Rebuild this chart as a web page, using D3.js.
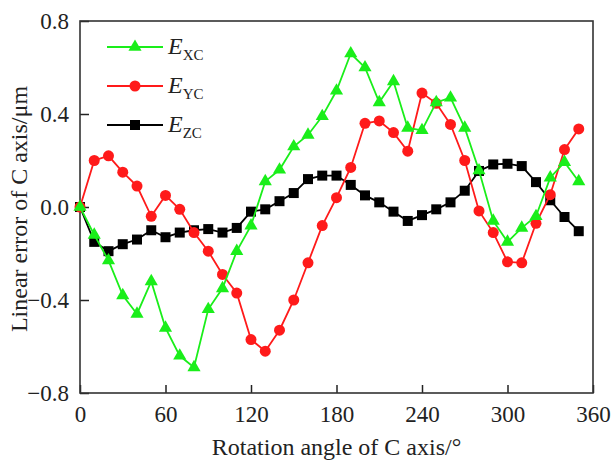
<!DOCTYPE html>
<html>
<head>
<meta charset="utf-8">
<script src="https://cdn.jsdelivr.net/npm/d3@7"></script>
<style>
  body { margin: 0; background: #fff; }
</style>
</head>
<body>
<div id="chart"></div>
<script>
// rotation angle of C axis, degrees
const angles = d3.range(0, 360, 10);

const exc = [0, -0.12, -0.23, -0.38, -0.46, -0.32, -0.52, -0.64, -0.69, -0.44,
  -0.35, -0.19, -0.08, 0.11, 0.16, 0.26, 0.31, 0.39, 0.50, 0.66,
  0.60, 0.45, 0.54, 0.34, 0.33, 0.45, 0.47, 0.34, 0.157, -0.06,
  -0.15, -0.09, -0.04, 0.126, 0.193, 0.11];

const eyc = [0, 0.20, 0.22, 0.15, 0.09, -0.04, 0.05, -0.01, -0.11, -0.19,
  -0.29, -0.37, -0.57, -0.62, -0.53, -0.40, -0.24, -0.08, 0.04, 0.17,
  0.36, 0.37, 0.32, 0.24, 0.49, 0.446, 0.355, 0.20, -0.017, -0.11,
  -0.236, -0.24, -0.07, 0.053, 0.247, 0.336];

const ezc = [0, -0.15, -0.19, -0.16, -0.14, -0.10, -0.13, -0.11, -0.10, -0.095,
  -0.11, -0.09, -0.02, -0.01, 0.025, 0.06, 0.12, 0.135, 0.135, 0.095,
  0.05, 0.02, -0.02, -0.06, -0.035, -0.01, 0.02, 0.07, 0.155, 0.183,
  0.186, 0.176, 0.107, 0.029, -0.043, -0.104];

const xTicks = [0, 60, 120, 180, 240, 300, 360];
const yTicks = [-0.8, -0.4, 0.0, 0.4, 0.8];

const series = [
  { sub: 'ZC', values: ezc, color: '#000000', marker: 'square' },
  { sub: 'YC', values: eyc, color: '#ff1a1a', marker: 'circle' },
  { sub: 'XC', values: exc, color: '#1aee1a', marker: 'triangle' }
];
const legendOrder = ['XC', 'YC', 'ZC'];

const FONT = '"Liberation Serif"';

const width = 612, height = 463;
const margin = { top: 21, right: 19, bottom: 70, left: 80 };
const w = width - margin.left - margin.right;
const h = height - margin.top - margin.bottom;

const svg = d3.select('#chart').append('svg')
  .attr('width', width)
  .attr('height', height);

const g = svg.append('g')
  .attr('transform', `translate(${margin.left},${margin.top})`);

const x = d3.scaleLinear().domain([0, 360]).range([0, w]);
const y = d3.scaleLinear().domain([-0.8, 0.8]).range([h, 0]);

// Axes (ticks pointing inward)
const xAxis = g.append('g')
  .attr('transform', `translate(0,${h})`)
  .call(d3.axisBottom(x).tickValues(xTicks).tickSizeInner(-8).tickSizeOuter(0).tickPadding(13));
const yAxis = g.append('g')
  .call(d3.axisLeft(y).tickValues(yTicks).tickFormat(d3.format('.1f')).tickSizeInner(-9).tickSizeOuter(0).tickPadding(11));

[xAxis, yAxis].forEach(a => {
  a.attr('font-family', null).attr('font-size', null);
  a.select('.domain').remove();
  a.selectAll('line').attr('stroke', '#222').attr('stroke-width', 1.5);
  a.selectAll('text')
    .attr('fill', '#222')
    .attr('font-family', FONT)
    .attr('font-size', 23);
});
xAxis.selectAll('text').attr('dy', '0.71em');

// Frame
g.append('rect')
  .attr('width', w).attr('height', h)
  .attr('fill', 'none')
  .attr('stroke', '#333')
  .attr('stroke-width', 1.6);

// Axis titles
svg.append('text')
  .attr('x', margin.left + w / 2)
  .attr('y', 455)
  .attr('text-anchor', 'middle')
  .attr('font-family', FONT)
  .attr('font-size', 24)
  .attr('fill', '#222')
  .text('Rotation angle of C axis/°');

svg.append('text')
  .attr('transform', `translate(27,${margin.top + h / 2 + 2}) rotate(-90)`)
  .attr('text-anchor', 'middle')
  .attr('font-family', FONT)
  .attr('font-size', 24)
  .attr('fill', '#222')
  .text('Linear error of C axis/μm');

// Marker drawing
function drawMarker(sel, type, color) {
  if (type === 'circle') {
    sel.append('circle').attr('r', 5.5).attr('fill', color);
  } else if (type === 'square') {
    sel.append('rect').attr('x', -5).attr('y', -5).attr('width', 10).attr('height', 10).attr('fill', color);
  } else {
    sel.append('path').attr('d', d3.symbol(d3.symbolTriangle, 75)()).attr('fill', color);
  }
}

const line = d3.line()
  .x((d, i) => x(angles[i]))
  .y(d => y(d));

series.forEach(s => {
  g.append('path')
    .datum(s.values)
    .attr('fill', 'none')
    .attr('stroke', s.color)
    .attr('stroke-width', 1.8)
    .attr('d', line);

  g.selectAll(null)
    .data(s.values)
    .join('g')
    .attr('transform', (d, i) => `translate(${x(angles[i])},${y(d)})`)
    .each(function () { drawMarker(d3.select(this), s.marker, s.color); });
});

// Legend
const legend = g.append('g').attr('transform', 'translate(27,26)');
legendOrder.forEach((sub, i) => {
  const s = series.find(d => d.sub === sub);
  const row = legend.append('g').attr('transform', `translate(0,${i * 39})`);
  row.append('line')
    .attr('x1', 0).attr('x2', 56)
    .attr('stroke', s.color).attr('stroke-width', 1.8);
  drawMarker(row.append('g').attr('transform', 'translate(28,0)'), s.marker, s.color);
  const t = row.append('text')
    .attr('x', 61)
    .attr('y', 7)
    .attr('font-family', FONT)
    .attr('font-size', 24)
    .attr('fill', '#222');
  t.append('tspan').attr('font-style', 'italic').text('E');
  t.append('tspan').attr('font-size', 15).attr('dy', 6).text(sub);
});
</script>
</body>
</html>
